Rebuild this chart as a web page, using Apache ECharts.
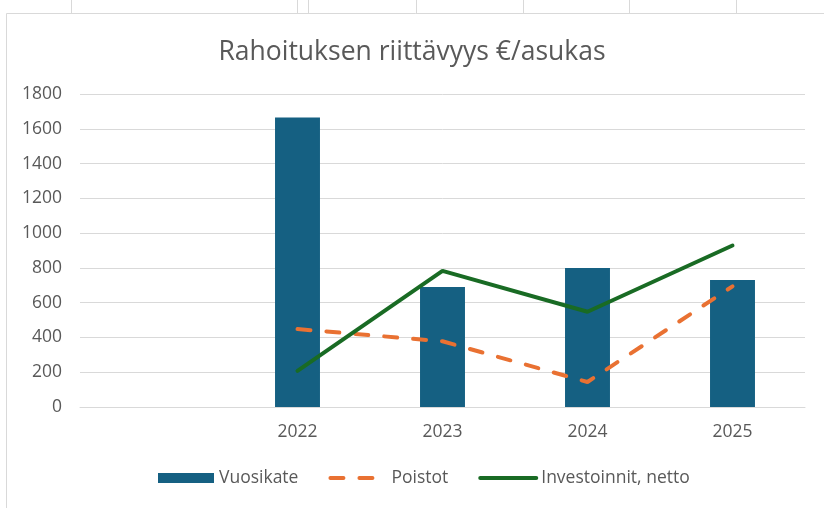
<!DOCTYPE html>
<html>
<head>
<meta charset="utf-8">
<script src="https://cdn.jsdelivr.net/npm/echarts@6/dist/echarts.min.js"></script>
<style>
html,body{margin:0;padding:0;background:#fff;}
#chart{width:824px;height:508px;}
</style>
</head>
<body>
<div id="chart"></div>
<script>
var years = ['2022', '2023', '2024', '2025'];
var vuosikate = [1665, 690, 800, 730];
var poistot = [448, 378, 144, 694];
var investoinnit = [208, 783, 548, 929];
var yTicks = { min: 0, max: 1800, interval: 200 };

var categories = [''].concat(years);
function pad(arr) { return [null].concat(arr); }

var font = 'Open Sans';
var grey = '#595959';
var orange = '#E97132';
var green = '#196B24';
var dash = [13, 16];
var chart = echarts.init(document.getElementById('chart'));
chart.setOption({
  animation: false,
  backgroundColor: '#ffffff',
  title: {
    text: 'Rahoituksen riittävyys €/asukas',
    left: 'center',
    top: 39,
    padding: [0, 0, 0, 19],
    textStyle: { fontFamily: font, fontSize: 26.5, fontWeight: 'normal', color: grey }
  },
  legend: {
    left: 153,
    top: 464,
    itemWidth: 56,
    itemHeight: 10,
    itemGap: 30,
    textStyle: { fontFamily: font, fontSize: 17.5, color: grey },
    data: [
      { name: 'Vuosikate', icon: 'rect' },
      { name: 'Poistot', itemStyle: { opacity: 0 }, lineStyle: { color: orange, width: 4, type: dash, cap: 'round' } },
      { name: 'Investoinnit, netto', itemStyle: { opacity: 0 }, lineStyle: { color: green, width: 4, cap: 'round' } }
    ]
  },
  grid: { left: 80, right: 19, top: 94, bottom: 101 },
  xAxis: {
    type: 'category',
    data: categories,
    axisLine: { lineStyle: { color: '#d9d9d9', width: 1 } },
    axisTick: { show: false },
    axisLabel: { fontFamily: font, fontSize: 17.5, color: grey, margin: 16 }
  },
  yAxis: {
    type: 'value',
    min: yTicks.min,
    max: yTicks.max,
    interval: yTicks.interval,
    axisLine: { show: false },
    axisTick: { show: false },
    splitLine: { lineStyle: { color: '#d9d9d9', width: 1 } },
    axisLabel: { fontFamily: font, fontSize: 17.5, color: grey, margin: 18, formatter: function (v) { return String(v); } }
  },
  series: [
    {
      name: 'Vuosikate',
      type: 'bar',
      data: pad(vuosikate),
      barWidth: '31%',
      itemStyle: { color: '#156082' }
    },
    {
      name: 'Poistot',
      type: 'line',
      data: pad(poistot),
      symbol: 'none',
      lineStyle: { color: orange, width: 4, type: dash, cap: 'round' },
      itemStyle: { color: orange }
    },
    {
      name: 'Investoinnit, netto',
      type: 'line',
      data: pad(investoinnit),
      symbol: 'none',
      lineStyle: { color: green, width: 4, cap: 'round' },
      itemStyle: { color: green }
    }
  ],
  graphic: [
    { type: 'rect', silent: true, z: -1, shape: { x: 6.5, y: 13.5, width: 900, height: 600 }, style: { fill: null, stroke: '#d9d9d9', lineWidth: 1 } },
    { type: 'line', silent: true, shape: { x1: 71.5, y1: 0, x2: 71.5, y2: 13 }, style: { stroke: '#d9d9d9', lineWidth: 1 } },
    { type: 'line', silent: true, shape: { x1: 297.5, y1: 0, x2: 297.5, y2: 13 }, style: { stroke: '#d9d9d9', lineWidth: 1 } },
    { type: 'line', silent: true, shape: { x1: 308.5, y1: 0, x2: 308.5, y2: 13 }, style: { stroke: '#d9d9d9', lineWidth: 1 } },
    { type: 'line', silent: true, shape: { x1: 416.5, y1: 0, x2: 416.5, y2: 13 }, style: { stroke: '#d9d9d9', lineWidth: 1 } },
    { type: 'line', silent: true, shape: { x1: 523.5, y1: 0, x2: 523.5, y2: 13 }, style: { stroke: '#d9d9d9', lineWidth: 1 } },
    { type: 'line', silent: true, shape: { x1: 629.5, y1: 0, x2: 629.5, y2: 13 }, style: { stroke: '#d9d9d9', lineWidth: 1 } },
    { type: 'line', silent: true, shape: { x1: 736.5, y1: 0, x2: 736.5, y2: 13 }, style: { stroke: '#d9d9d9', lineWidth: 1 } }
  ]
});
</script>
</body>
</html>
